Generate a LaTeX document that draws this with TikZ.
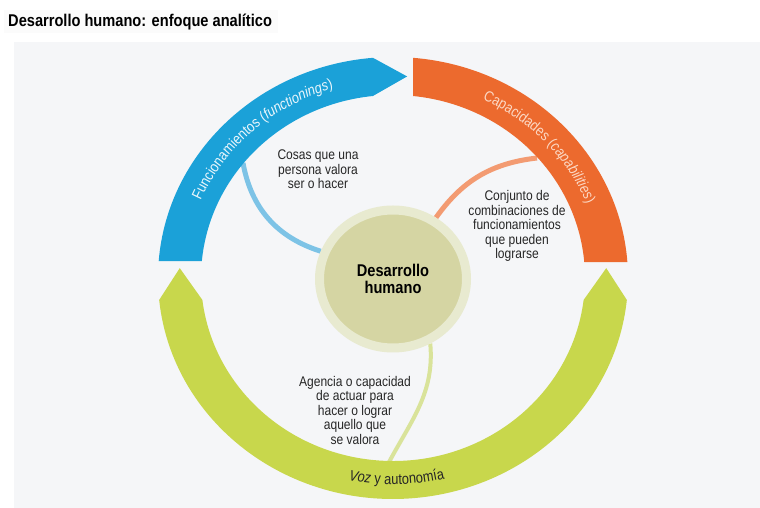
\documentclass[tikz,border=0pt]{standalone}
\usepackage{fontspec}
\setmainfont{Liberation Sans}[FakeStretch=0.86]
\usetikzlibrary{calc,decorations.text,shapes.geometric}
\definecolor{panel}{HTML}{F5F6F8}
\definecolor{titlebg}{HTML}{FBFBFB}
\definecolor{blueband}{HTML}{1BA1D8}
\definecolor{orangeband}{HTML}{EC6A2E}
\definecolor{greenband}{HTML}{C8D74C}
\definecolor{bluelink}{HTML}{7DC3E6}
\definecolor{orangelink}{HTML}{F39B72}
\definecolor{greenlink}{HTML}{D9E39A}
\definecolor{coreinner}{HTML}{D5D5A3}
\definecolor{coreouter}{HTML}{E8EAD0}
\definecolor{orangetext}{HTML}{FCD8C4}
\definecolor{bluetext}{HTML}{EAF6FC}
\definecolor{darktext}{HTML}{262626}
\newcommand{\arcfont}{\fontsize{15}{15}\selectfont}
\pgfdeclarelayer{back}
\pgfdeclarelayer{links}
\pgfsetlayers{back,links,main}
\begin{document}
\begin{tikzpicture}[x=1pt,y=1pt,
  bodytext/.style={font=\fontsize{14}{14.5}\selectfont, text=darktext, align=center, inner sep=0pt},
  corestyle/.style={ellipse, minimum width=147pt, minimum height=138pt, fill=coreinner,
     draw=coreouter, line width=9pt, inner sep=0pt, align=center, text=black,
     font=\bfseries\fontsize{17}{17}\selectfont},
  arctext/.style={decorate, decoration={text along path, text align=center}}]
\useasboundingbox (0,0) rectangle (760,508);
\begin{pgfonlayer}{back}
  \fill[white] (0,0) rectangle (760,508);
  \fill[titlebg] (4,475) rectangle (278,498);
  \fill[panel] (14,0) rectangle (760,466);
\end{pgfonlayer}

\node[anchor=west, inner sep=0pt, font=\bfseries\fontsize{17}{17}\selectfont, text=black] (title) at (8,486) {Desarrollo humano: enfoque analítico};

\coordinate (C) at (393,230);

% green band (Voz y autonomia)
\fill[greenband] ($(C)+(185.7:235pt and 221pt)$)
  arc[start angle=185.7, end angle=354.3, x radius=235pt, y radius=221pt]
  -- ($(C)+(2.8:213.5pt and 202pt)$)
  -- ($(C)+(353.1:192pt and 183pt)$)
  arc[start angle=353.1, end angle=186.9, x radius=192pt, y radius=183pt]
  -- ($(C)+(177.2:213.5pt and 202pt)$) -- cycle;

% blue band (Funcionamientos)
\fill[blueband] ($(C)+(175.6:235pt and 221pt)$)
  arc[start angle=175.6, end angle=94.9, x radius=235pt, y radius=221pt]
  -- ($(C)+(86.2:213.5pt and 202pt)$)
  -- ($(C)+(96:192pt and 183pt)$)
  arc[start angle=96, end angle=174.7, x radius=192pt, y radius=183pt] -- cycle;

% orange band (Capacidades)
\fill[orangeband] ($(C)+(85.1:235pt and 221pt)$)
  arc[start angle=85.1, end angle=4.15, x radius=235pt, y radius=221pt]
  -- ($(C)+(5.0:192pt and 183pt)$)
  arc[start angle=5.0, end angle=84, x radius=192pt, y radius=183pt] -- cycle;

% texts along the bands
\path[arctext, decoration={text color=bluetext,
   text={|\arcfont|Funcionamientos (|\arcfont\itshape|functionings|\arcfont|)}}]
  ($(C)+(166:209pt and 197.5pt)$) arc[start angle=166, end angle=98, x radius=209pt, y radius=197.5pt];
\path[arctext, decoration={text color=orangetext,
   text={|\arcfont|Capacidades (|\arcfont\itshape|capabilities|\arcfont|)}}]
  ($(C)+(76:209pt and 197.5pt)$) arc[start angle=76, end angle=10, x radius=209pt, y radius=197.5pt];
\path[arctext, decoration={text color=darktext,
   text={|\arcfont\itshape|Voz|\arcfont| y autonomía}}]
  ($(C)+(240:218pt and 206.5pt)$) arc[start angle=240, end angle=302, x radius=218pt, y radius=206.5pt];

% centre
\node[corestyle] (dh) at (393,229) {Desarrollo\\humano};

% explanatory texts
\node[bodytext] (cosas) at (318,338.5) {Cosas que una\\persona valora\\ser o hacer};
\node[bodytext] (conj) at (517,282) {Conjunto de\\combinaciones de\\funcionamientos\\que pueden\\lograrse};
\node[bodytext] (agen) at (355,98) {Agencia o capacidad\\de actuar para\\hacer o lograr\\aquello que\\se valora};

% connector end points on the ring
\coordinate (fa) at (243,345);
\coordinate (ca) at (537,350);
\coordinate (va) at (388,44);

\begin{pgfonlayer}{links}
  \draw[bluelink, line width=5pt] (fa) to[bend right=31] (dh.159);
  \draw[orangelink, line width=5pt] (ca) to[bend right=24] (dh.55);
  \draw[greenlink, line width=4pt] (dh.-60) to[out=-85, in=62] (va);
\end{pgfonlayer}
\end{tikzpicture}
\end{document}
